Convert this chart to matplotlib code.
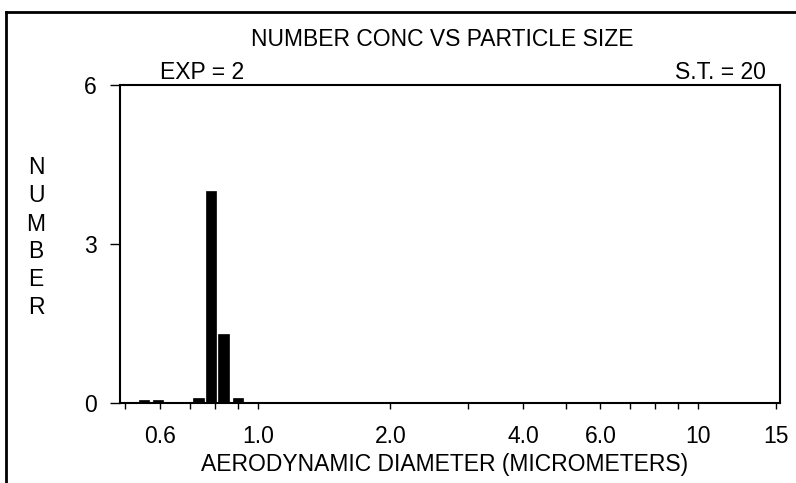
import matplotlib
matplotlib.use("Agg")
import matplotlib.pyplot as plt
from matplotlib.lines import Line2D
import numpy as np

plt.rcParams['font.family'] = ['Liberation Sans', 'DejaVu Sans']

# bin centres (micrometers) and counts
diam = [0.551, 0.593, 0.733, 0.782, 0.835, 0.900]
count = [0.05, 0.05, 0.1, 4.0, 1.3, 0.1]
half_bin = 0.0115  # half bin width, in decades

tick_pos = [0.5, 0.6, 0.7, 0.8, 0.9, 1.0, 2.0, 3.0, 4.0, 5.0, 6.0, 7.0, 8.0, 9.0, 10.0, 15.0]
tick_lab = {0.6: '0.6', 1.0: '1.0', 2.0: '2.0', 4.0: '4.0', 6.0: '6.0', 10.0: '10', 15.0: '15'}
y_ticks = [0, 3, 6]
ylab = 'NUMBER'

fs = 16.5

fig = plt.figure(figsize=(7.96, 4.83), dpi=100)
ax = fig.add_axes([120/796, 80/483, 660/796, 318/483])

d = np.array(diam)
left = d * 10**(-half_bin)
right = d * 10**(half_bin)
ax.bar(left, count, width=right - left, align='edge', color='black', edgecolor='black', lw=0.5)

ax.set_xscale('log')
ax.set_xlim(0.486, 15.35)
ax.set_ylim(0, 6)
ax.set_xticks(tick_pos)
ax.set_xticklabels([tick_lab.get(t, '') for t in tick_pos])
ax.minorticks_off()
ax.set_yticks(y_ticks)
ax.set_yticklabels([str(v) for v in y_ticks])
ax.tick_params(axis='x', direction='out', length=4, width=1, pad=12, labelsize=fs)
ax.tick_params(axis='y', direction='out', length=7, width=1, pad=10, labelsize=fs)
for s in ax.spines.values():
    s.set_linewidth(1.5)

fig.text(442/796, 1 - 40/483, 'NUMBER CONC VS PARTICLE SIZE', ha='center', va='center', fontsize=fs)
fig.text(160/796, 1 - 72/483, 'EXP = 2', ha='left', va='center', fontsize=fs)
fig.text(766/796, 1 - 72/483, 'S.T. = 20', ha='right', va='center', fontsize=fs)
fig.text(445/796, 1 - 465/483, 'AERODYNAMIC DIAMETER (MICROMETERS)', ha='center', va='center', fontsize=fs)
for i, ch in enumerate(ylab):
    fig.text(36/796, 1 - (168 + i * 28)/483, ch, ha='center', va='center', fontsize=fs)

# page frame (top and left only)
fig.add_artist(Line2D([6/796, 1], [1 - 12/483, 1 - 12/483], color='black', lw=2, transform=fig.transFigure))
fig.add_artist(Line2D([6/796, 6/796], [0, 1 - 12/483], color='black', lw=2, transform=fig.transFigure))

fig.savefig('out.png', dpi=100)
